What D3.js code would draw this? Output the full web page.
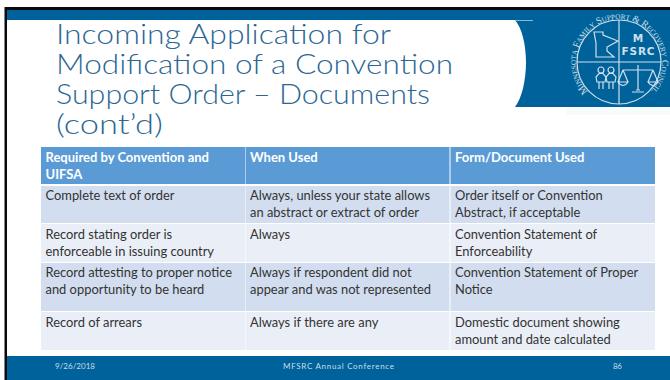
<!DOCTYPE html>
<html>
<head>
<meta charset="utf-8">
<script src="https://cdnjs.cloudflare.com/ajax/libs/d3/7.8.5/d3.min.js"></script>
<style>
html, body { margin: 0; padding: 0; background: #fff; overflow: hidden; }
text { font-family: Lato, sans-serif; }
</style>
</head>
<body>
<svg id="slide" width="670" height="380"></svg>
<script>
var titleLines = ["Incoming Application for", "Modification of a Convention", "Support Order \u2013 Documents", "(cont\u2019d)"];
var headers = [["Required by Convention and", "UIFSA"], ["When Used"], ["Form/Document Used"]];
var requiredBy = [
    ["Complete text of order"],
    ["Record stating order is", "enforceable in issuing country"],
    ["Record attesting to proper notice", "and opportunity to be heard"],
    ["Record of arrears"]
];
var whenUsed = [
    ["Always, unless your state allows", "an abstract or extract of order"],
    ["Always"],
    ["Always if respondent did not", "appear and was not represented"],
    ["Always if there are any"]
];
var formUsed = [
    ["Order itself or Convention", "Abstract, if acceptable"],
    ["Convention Statement of", "Enforceability"],
    ["Convention Statement of Proper", "Notice"],
    ["Domestic document showing", "amount and date calculated"]
];
var footerLabels = ["9/26/2018", "MFSRC Annual Conference", "86"];
var sealWords = "MINNESOTA FAMILY SUPPORT & RECOVERY COUNCIL";
var sealInitials = [0, 10, 17, 25, 27, 36];

var blue = "#00629b";
var svg = d3.select("#slide");

// frame and bands
svg.append("rect").attr("x", 4.5).attr("y", 7).attr("width", 666).attr("height", 373).attr("fill", "#0a0a0a");
svg.append("rect").attr("x", 7).attr("y", 10).attr("width", 663).attr("height", 370).attr("fill", "#fff");
svg.append("rect").attr("x", 7).attr("y", 10).attr("width", 663).attr("height", 10).attr("fill", blue);
svg.append("rect").attr("x", 7).attr("y", 356).attr("width", 663).attr("height", 24).attr("fill", blue);

// logo panel with the rounded white edge
svg.append("path")
    .attr("d", "M515,20 C522,28 526,45 526,62 C526,80 522,98 515,107 L670,107 L670,20 Z")
    .attr("fill", blue);
svg.append("line").attr("x1", 515).attr("x2", 533).attr("y1", 20.5).attr("y2", 20.5).attr("stroke", "#8fb4cc");
svg.append("rect").attr("x", 566).attr("y", 107).attr("width", 104).attr("height", 8).attr("fill", "#f8fbfc");

// title
var titleWidths = [335, 397, 374, 107];
svg.append("g").selectAll("text")
    .data(titleLines)
    .enter()
    .append("text")
    .attr("x", 56)
    .attr("y", function(d, i){ return 43.5 + i * 30; })
    .attr("textLength", function(d, i){ return titleWidths[i]; })
    .attr("lengthAdjust", "spacingAndGlyphs")
    .attr("font-size", 27)
    .attr("font-weight", 300)
    .attr("fill", "#2c6694")
    .text(function(d){ return d; });

// table
var columnX = d3.scaleOrdinal().domain([0, 1, 2]).range([41, 245.5, 450.5]);
var columnW = [204, 204, 204.5];
var rowTop = [186, 224, 263, 312];
var rowBottom = [223, 262, 311, 350];
var lineStart = [200, 239, 276.7, 326.7];
var rowFill = ["#d2deef", "#eaeff7"];

var table = svg.append("g");
headers.forEach(function(lines, c){
    table.append("rect")
        .attr("x", columnX(c)).attr("y", 147)
        .attr("width", columnW[c]).attr("height", 37)
        .attr("fill", "#5b9bd5");
    table.selectAll(".h" + c)
        .data(lines)
        .enter()
        .append("text")
        .attr("class", "h" + c)
        .attr("x", columnX(c) + 4.5)
        .attr("y", function(d, i){ return 161.7 + i * 17; })
        .attr("font-size", 13)
        .attr("font-weight", 700)
        .attr("fill", "#fff")
        .text(function(d){ return d; });
});

[requiredBy, whenUsed, formUsed].forEach(function(column, c){
    var cells = table.selectAll(".c" + c)
        .data(column)
        .enter()
        .append("g")
        .attr("class", "c" + c);
    cells.append("rect")
        .attr("x", columnX(c))
        .attr("y", function(d, i){ return rowTop[i]; })
        .attr("width", columnW[c])
        .attr("height", function(d, i){ return rowBottom[i] - rowTop[i]; })
        .attr("fill", function(d, i){ return rowFill[i % 2]; });
    cells.each(function(lines, r){
        d3.select(this).selectAll("text")
            .data(lines)
            .enter()
            .append("text")
            .attr("x", columnX(c) + 4.5)
            .attr("y", function(d, i){ return lineStart[r] + i * 17; })
            .attr("font-size", 12.9)
            .attr("fill", "#333")
            .text(function(d){ return d; });
    });
});

// footer
var footerX = [55, 283, 613];
var footerW = [40, 111, 9];
svg.append("g").selectAll("text")
    .data(footerLabels)
    .enter()
    .append("text")
    .attr("x", function(d, i){ return footerX[i]; })
    .attr("y", 369)
    .attr("textLength", function(d, i){ return footerW[i]; })
    .attr("font-size", 8)
    .attr("fill", "#c9dde9")
    .text(function(d){ return d; });

// logo seal
var seal = svg.append("g").attr("transform", "translate(619,62)");
var ink = "#cfe0ea";
seal.append("circle").attr("r", 42).attr("fill", "none").attr("stroke", ink).attr("stroke-width", 1.2);
seal.append("line").attr("x1", -42).attr("x2", 42).attr("stroke", ink).attr("stroke-width", 1.2);
seal.append("line").attr("y1", -42).attr("y2", 42).attr("stroke", ink).attr("stroke-width", 1.2);

// ring lettering, one text per letter so it follows the circle
var ringRadius = 43;
var ringStart = -2.33, ringEnd = 2.3;
var letters = seal.append("g").selectAll("text")
    .data(sealWords.split(""))
    .enter()
    .append("text")
    .attr("font-size", function(d, i){ return sealInitials.indexOf(i) >= 0 ? 9.6 : 7.2; })
    .attr("text-anchor", "middle")
    .attr("fill", ink)
    .style("font-family", "'Liberation Serif', serif")
    .text(function(d){ return d; });
var advance = [];
letters.each(function(d){ advance.push(d === " " ? 2.4 : this.getComputedTextLength()); });
var totalAdvance = d3.sum(advance);
var ringAngle = d3.scaleLinear().domain([0, totalAdvance]).range([ringStart, ringEnd]);
letters.attr("transform", function(d, i){
    var a = ringAngle(d3.sum(advance.slice(0, i)) + advance[i] / 2);
    return "rotate(" + (a * 180 / Math.PI) + ") translate(0," + (-ringRadius) + ")";
});

// state outline
seal.append("path")
    .attr("d", "M-25,-30 L-16,-30 L-16,-27 L-1,-21 L-12,-15 L-12,-11 L-5,-5 L-23,-5 L-23,-19 Z")
    .attr("fill", "none").attr("stroke", ink).attr("stroke-width", 1.2);

seal.append("text").attr("x", 19).attr("y", -20).attr("text-anchor", "middle")
    .attr("font-size", 10.5).attr("font-weight", 700).attr("fill", ink).style("font-family", "'DejaVu Sans', sans-serif").text("M");
seal.append("text").attr("x", 19).attr("y", -7).attr("text-anchor", "middle")
    .attr("font-size", 10.5).attr("font-weight", 700).attr("textLength", 33).attr("fill", ink).style("font-family", "'DejaVu Sans', sans-serif").text("FSRC");

// people
[-18, -8].forEach(function(px){
    var p = seal.append("g").attr("transform", "translate(" + px + ",0)");
    p.append("circle").attr("cy", 8).attr("r", 3).attr("fill", "none").attr("stroke", ink).attr("stroke-width", 1.2);
    p.append("path").attr("d", "M-4,20 L-5,15 L-2,11.5 L2,11.5 L5,15 L4,20 Z M-2,20 L-2,27 M2,20 L2,27")
        .attr("fill", "none").attr("stroke", ink).attr("stroke-width", 1.2);
});

// scales of justice
var scales = seal.append("g").attr("transform", "translate(19,0)");
scales.append("path")
    .attr("d", "M0,3 L0,28 M-6,30 L6,30 M-2,28 L2,28 M-15,8 L15,8 M-15,8 L-20,20 M-15,8 L-10,20 M15,8 L10,20 M15,8 L20,20 M-20,20 Q-15,27 -10,20 Z M10,20 Q15,27 20,20 Z")
    .attr("fill", "none").attr("stroke", ink).attr("stroke-width", 1.2);
</script>
</body>
</html>
